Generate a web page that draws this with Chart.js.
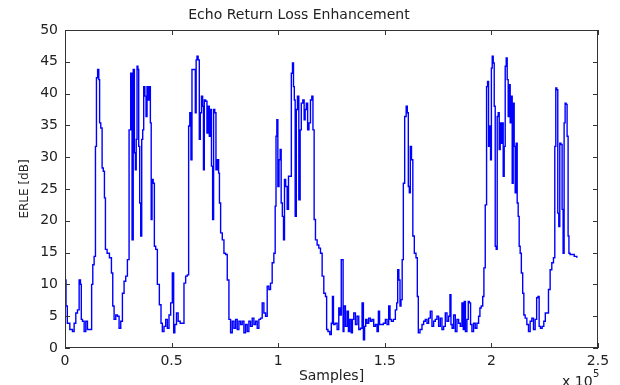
<!DOCTYPE html>
<html>
<head>
<meta charset="utf-8">
<script src="https://cdn.jsdelivr.net/npm/chart.js@4.4.1/dist/chart.umd.min.js"></script>
<style>
  html, body { margin: 0; padding: 0; background: #fff; }
  #wrap { width: 620px; height: 385px; position: relative; }
</style>
</head>
<body>
<div id="wrap"><canvas id="erleChart"></canvas></div>
<script>
// dati (campioni, ERLE in dB)
const sampleIdx = [
  0, 156, 780, 1400, 3120, 3900, 4680, 5460, 6240, 7020, 7490, 7800, 8590, 9370, 10150, 10930, 12180, 12800, 13270, 14050,
  14520, 14990, 15610, 16080, 16390, 17170, 17640, 18260, 18730, 19200, 20290, 21390, 22170, 22630, 23420, 24200, 24980, 25760, 26540, 27320,
  28100, 28880, 29660, 30440, 31220, 31690, 32310, 32780, 33250, 33560, 34030, 34340, 34810, 35280, 35750, 36220, 36680, 37150, 37780, 38240,
  38710, 39340, 39810, 40270, 40590, 41050, 41680, 42150, 42930, 43710, 44800, 45270, 46050, 46830, 47610, 48390, 49170, 49950, 50730, 51200,
  51830, 52760, 53390, 54640, 55420, 56200, 56980, 57760, 58220, 58850, 59320, 59790, 60890, 61360, 61670, 62140, 62760, 63230, 63700, 64320,
  64790, 65100, 65570, 66350, 66820, 67440, 67910, 68380, 69010, 69470, 69940, 70570, 71040, 71820, 72280, 72600, 73380, 74160, 74940, 75720,
  76500, 77280, 78060, 78840, 79620, 80400, 81180, 81960, 82740, 83520, 84300, 85080, 85860, 86640, 87420, 88210, 88990, 89770, 90550, 91330,
  92110, 92890, 93670, 94450, 95230, 96010, 96790, 97570, 98350, 98820, 99130, 99600, 100070, 100690, 101160, 101630, 102260, 102720, 103190, 103820,
  104600, 105070, 105850, 106470, 106940, 107410, 107720, 108190, 108810, 109280, 110060, 110530, 111150, 111930, 112400, 112870, 113490, 114120, 114740, 115520,
  115990, 116620, 117090, 117870, 118650, 119440, 120220, 121000, 121780, 122560, 122870, 123810, 124590, 125210, 125680, 126150, 127240, 128020, 128800, 129270,
  129890, 130360, 130520, 131140, 131920, 132700, 133170, 133950, 134580, 135050, 135830, 136610, 137390, 138170, 138950, 139730, 140200, 140820, 141290, 142070,
  142850, 143630, 144410, 145190, 145970, 146750, 147220, 147850, 148780, 149880, 150660, 151440, 152220, 152690, 153470, 154560, 155340, 155810, 156280, 156900,
  157370, 157840, 158460, 158930, 159710, 160330, 160800, 161270, 161740, 162210, 162830, 163460, 164240, 165020, 165490, 165950, 167050, 167830, 168610, 169390,
  170170, 170950, 171730, 172510, 173290, 174070, 174850, 175640, 176420, 177200, 177980, 178770, 179550, 180330, 180800, 181260, 181890, 182670, 183450, 184230,
  185010, 185790, 186570, 187040, 187510, 188130, 188910, 189380, 190000, 190470, 191250, 192030, 192820, 193600, 194380, 194840, 195620, 196250, 196720, 197500,
  197970, 198430, 198900, 199370, 199840, 200150, 200620, 201090, 201560, 202020, 202490, 202960, 203430, 203900, 204370, 204830, 205300, 205770, 206240, 206710,
  207180, 207640, 208110, 208580, 209050, 209520, 209990, 210450, 210920, 211390, 211860, 212330, 212800, 213260, 213730, 214360, 214980, 215450, 216230, 217010,
  217790, 218570, 219350, 220130, 220910, 221540, 222160, 222630, 223410, 224190, 224970, 225600, 226380, 227160, 227940, 228720, 229500, 229970, 230440, 230900,
  231370, 231840, 232310, 232930, 233400, 233870, 234340, 234810, 235270, 235740, 236210, 236520, 237300, 238080, 239640, 240420
];
const erleDb = [
  17.3, 10.7, 6.6, 3.9, 2.9, 2.6, 3.9, 5.5, 6.0, 10.7, 10.0, 4.5, 4.2, 2.6, 4.2, 2.9, 2.9, 10.0, 13.1, 14.4,
  31.7, 42.5, 43.8, 42.2, 35.4, 34.6, 28.3, 27.8, 23.6, 15.5, 14.9, 14.2, 11.8, 6.6, 4.5, 5.2, 5.0, 3.1, 4.2, 8.6,
  10.5, 11.3, 13.9, 34.3, 43.2, 17.0, 43.8, 30.7, 28.0, 32.8, 44.3, 43.8, 31.7, 22.8, 17.6, 32.8, 34.3, 41.1, 39.6, 36.4,
  41.1, 39.0, 41.1, 35.4, 20.2, 26.5, 25.9, 16.0, 15.5, 10.0, 6.8, 3.9, 2.6, 3.4, 4.5, 3.1, 5.2, 7.1, 11.8, 2.4,
  3.7, 5.5, 4.2, 3.9, 3.9, 10.2, 11.3, 11.5, 34.9, 37.0, 29.6, 43.8, 43.8, 37.0, 45.3, 45.9, 45.3, 32.8, 37.0, 39.6,
  38.0, 28.0, 39.0, 38.8, 33.8, 38.0, 33.3, 37.5, 28.6, 20.2, 37.5, 37.0, 28.0, 29.6, 27.5, 22.8, 18.1, 17.0, 14.9, 14.7,
  10.7, 4.5, 2.4, 4.2, 3.1, 4.5, 2.9, 4.2, 3.7, 4.2, 2.4, 3.7, 2.6, 4.2, 3.4, 4.7, 3.7, 4.2, 3.1, 4.5,
  4.7, 7.1, 5.5, 5.0, 9.7, 9.2, 10.2, 13.4, 14.9, 22.3, 33.3, 35.9, 25.4, 29.6, 31.2, 22.8, 20.7, 17.0, 26.5, 25.4,
  21.8, 27.0, 27.0, 43.2, 44.8, 41.1, 39.0, 20.7, 37.5, 39.6, 23.3, 34.3, 38.5, 39.0, 35.9, 37.5, 38.5, 34.3, 35.4, 39.0,
  39.6, 34.3, 20.2, 17.0, 16.2, 15.7, 14.9, 11.3, 8.6, 8.1, 2.9, 2.6, 2.1, 3.9, 8.1, 3.7, 3.9, 2.9, 6.3, 5.2,
  13.9, 13.9, 2.6, 6.6, 3.4, 5.8, 2.6, 4.5, 2.4, 4.5, 5.5, 3.7, 5.0, 2.9, 3.1, 7.1, 1.3, 3.4, 4.5, 3.9,
  4.7, 4.2, 4.5, 3.4, 3.7, 2.6, 5.8, 3.7, 3.7, 3.9, 4.5, 3.7, 6.6, 4.5, 4.2, 4.5, 6.0, 7.1, 12.3, 10.7,
  6.6, 7.6, 13.9, 25.9, 36.4, 38.0, 37.0, 25.4, 24.4, 31.7, 29.6, 17.6, 14.9, 14.2, 8.1, 2.4, 2.9, 3.7, 4.2, 4.5,
  3.9, 4.7, 5.8, 3.4, 4.2, 4.5, 5.0, 3.4, 4.7, 2.9, 3.4, 5.5, 4.2, 5.0, 8.4, 3.7, 3.1, 5.2, 2.6, 4.5,
  3.9, 3.4, 7.1, 2.9, 7.3, 2.6, 4.5, 7.3, 7.1, 3.7, 2.6, 3.9, 3.1, 3.9, 5.0, 6.3, 6.6, 8.1, 12.6, 22.5,
  41.1, 41.9, 31.7, 34.9, 29.6, 44.0, 45.9, 44.8, 38.0, 16.0, 15.5, 36.4, 37.0, 31.2, 35.4, 32.2, 35.4, 27.0, 31.7, 44.3,
  45.6, 42.2, 36.4, 41.4, 35.4, 39.6, 25.9, 38.5, 31.7, 24.4, 32.2, 22.8, 20.7, 16.0, 14.9, 11.8, 8.6, 5.2, 4.7, 3.7,
  2.6, 4.2, 4.7, 2.9, 4.5, 7.9, 8.1, 3.4, 3.1, 3.4, 4.2, 5.5, 5.5, 9.2, 12.3, 13.4, 14.2, 31.7, 40.9, 40.6,
  21.2, 19.1, 32.2, 32.0, 21.8, 14.9, 35.4, 38.5, 38.3, 33.3, 17.6, 14.9, 14.7, 14.7, 14.4, 14.3
];
const xTicks = [0, 50000, 100000, 150000, 200000, 250000];
const yTicks = [0, 5, 10, 15, 20, 25, 30, 35, 40, 45, 50];

const punti = sampleIdx.map((s, i) => ({ x: s, y: erleDb[i] }));

const FONT = '"DejaVu Sans", Verdana, sans-serif';
const TXT = '#222';

// cornice e tacche interne stile MATLAB
const framePlugin = {
  id: 'frame',
  afterDraw(chart) {
    const { ctx, chartArea: a, scales } = chart;
    ctx.save();
    ctx.strokeStyle = '#333';
    ctx.lineWidth = 1;
    ctx.strokeRect(a.left + 0.5, a.top + 0.5, a.right - a.left - 1, a.bottom - a.top - 1);
    const tl = 5;
    ctx.beginPath();
    xTicks.forEach(v => {
      const px = Math.round(scales.x.getPixelForValue(v)) + 0.5;
      ctx.moveTo(px, a.bottom); ctx.lineTo(px, a.bottom - tl);
      ctx.moveTo(px, a.top); ctx.lineTo(px, a.top + tl);
    });
    yTicks.forEach(v => {
      const py = Math.round(scales.y.getPixelForValue(v)) + 0.5;
      ctx.moveTo(a.left, py); ctx.lineTo(a.left + tl, py);
      ctx.moveTo(a.right, py); ctx.lineTo(a.right - tl, py);
    });
    ctx.stroke();
    // moltiplicatore asse x
    ctx.fillStyle = TXT;
    ctx.font = '14px ' + FONT;
    ctx.textBaseline = 'alphabetic';
    ctx.textAlign = 'left';
    ctx.fillText('x 10', 562, 386);
    ctx.font = '10px ' + FONT;
    ctx.fillText('5', 593, 377);
    ctx.restore();
  }
};

new Chart(document.getElementById('erleChart'), {
  type: 'scatter',
  data: {
    datasets: [{
      label: 'ERLE',
      data: punti,
      showLine: true,
      stepped: 'middle',
      borderColor: '#0000ff',
      backgroundColor: '#0000ff',
      borderWidth: 1.4,
      pointRadius: 0
    }]
  },
  options: {
    responsive: true,
    maintainAspectRatio: false,
    animation: false,
    layout: { padding: { left: 0, right: 22, top: 0, bottom: 0 } },
    plugins: {
      legend: { display: false },
      tooltip: { enabled: false },
      title: {
        display: true,
        text: 'Echo Return Loss Enhancement',
        color: TXT,
        font: { family: FONT, size: 14, weight: 'normal', lineHeight: 1.2 },
        padding: { top: 7, bottom: 6.2 }
      }
    },
    scales: {
      x: {
        type: 'linear',
        min: 0,
        max: 250000,
        afterFit: s => { s.height = 37; },
        afterBuildTicks: s => { s.ticks = xTicks.map(v => ({ value: v })); },
        grid: { display: false, drawTicks: false },
        border: { display: false },
        ticks: {
          color: TXT,
          padding: 5,
          font: { family: FONT, size: 14 },
          callback: v => String(v / 100000)
        },
        title: {
          display: true,
          text: 'Samples]',
          color: TXT,
          font: { family: FONT, size: 14 },
          padding: { top: 3, bottom: 0 }
        }
      },
      y: {
        type: 'linear',
        min: 0,
        max: 50,
        afterFit: s => { s.width = 65; },
        afterBuildTicks: s => { s.ticks = yTicks.map(v => ({ value: v })); },
        grid: { display: false, drawTicks: false },
        border: { display: false },
        ticks: {
          color: TXT,
          padding: 7,
          font: { family: FONT, size: 14 }
        },
        title: {
          display: true,
          text: 'ERLE [dB]',
          color: TXT,
          font: { family: FONT, size: 12 },
          padding: { top: 18, bottom: 0 }
        }
      }
    }
  },
  plugins: [framePlugin]
});
</script>
</body>
</html>
